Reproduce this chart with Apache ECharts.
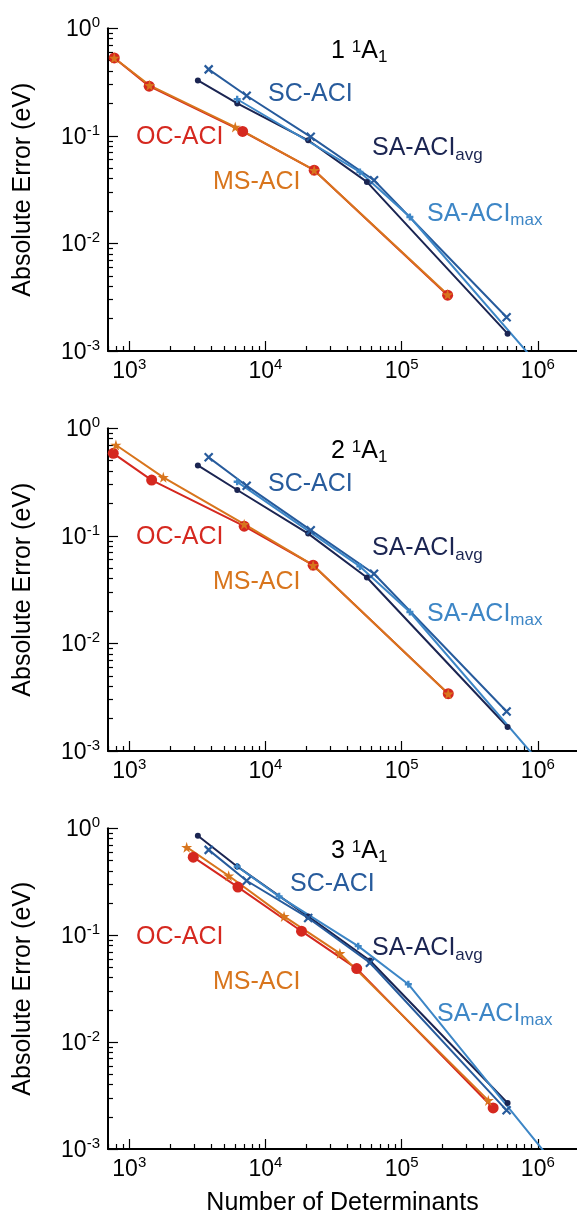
<!DOCTYPE html>
<html><head><meta charset="utf-8">
<script src="https://cdn.jsdelivr.net/npm/echarts@6/dist/echarts.min.js"></script>
<style>html,body{margin:0;padding:0;background:#fff}#c{width:577px;height:1217px}</style>
</head><body><div id="c"></div>
<script>
// ---- data (Number of Determinants, Absolute Error eV) ----
const panelTitles = ['1', '2', '3'];
const xMajorTicks = [1e3, 1e4, 1e5, 1e6];
const yMajorTicks = [1.0000001e-3, 1e-2, 1e-1, 1];

const p1_OC = [[776,0.53],[1400,0.29],[6800,0.11],[22800,0.048],[217700,0.0033]];
const p1_MS = [[776,0.53],[1410,0.295],[6000,0.121],[22800,0.048],[217700,0.00335]];
const p1_SC = [[3830,0.415],[7280,0.236],[21500,0.098],[62700,0.0387],[590000,0.00206]];
const p1_SAavg = [[3190,0.328],[6210,0.200],[20600,0.091],[55600,0.0373],[600000,0.00145]];
const p1_SAmax = [[6200,0.219],[49400,0.0462],[115000,0.0176],[1000000,0.00075]];

const p2_OC = [[763,0.585],[1460,0.330],[6980,0.123],[22400,0.0534],[220000,0.00341]];
const p2_MS = [[798,0.700],[1778,0.350],[6980,0.1285],[22400,0.0534],[220000,0.0034]];
const p2_SC = [[3830,0.537],[7280,0.292],[21500,0.113],[62700,0.0444],[590000,0.00233]];
const p2_SAavg = [[3190,0.452],[6210,0.267],[20600,0.105],[55600,0.041],[600000,0.00167]];
const p2_SAmax = [[6200,0.318],[49400,0.052],[115000,0.0196],[1000000,0.00082]];

const p3_OC = [[2950,0.537],[6280,0.282],[18400,0.109],[46800,0.0487],[470000,0.00242]];
const p3_MS = [[2640,0.666],[5370,0.360],[13700,0.150],[35200,0.0676],[433000,0.00285]];
const p3_SC = [[3830,0.628],[7280,0.323],[20600,0.145],[58500,0.0553],[590000,0.0023]];
const p3_SAavg = [[3190,0.853],[6200,0.44],[20600,0.15],[58500,0.058],[600000,0.00269]];
const p3_SAmax = [[6200,0.439],[12600,0.231],[48000,0.079],[112000,0.0348],[1200000,0.00084]];

const panels = [
  {OC:p1_OC, MS:p1_MS, SC:p1_SC, SAavg:p1_SAavg, SAmax:p1_SAmax},
  {OC:p2_OC, MS:p2_MS, SC:p2_SC, SAavg:p2_SAavg, SAmax:p2_SAmax},
  {OC:p3_OC, MS:p3_MS, SC:p3_SC, SAavg:p3_SAavg, SAmax:p3_SAmax}
];

// ---- style ----
const FONT = '"Liberation Sans", Arial, Helvetica, sans-serif';
const C = {OC:'#d5281f', MS:'#d8751d', SC:'#275b9c', SAavg:'#1b2552', SAmax:'#3d86c6'};
const X_MIN = 698, X_MAX = 1.94e6, Y_MIN = 1e-3, Y_MAX = 1;
const PANEL_DY = 400, GRID_TOP = 28.3, GRID_H = 322.7, GRID_LEFT = 108;

function minorTicks(lo, hi) {
  const out = [];
  for (let e = lo; e <= hi; e++) for (let k = 2; k <= 9; k++) out.push(k * Math.pow(10, e));
  return out;
}
const xMinor = minorTicks(2, 6).filter(v => v > X_MIN && v < X_MAX);
const yMinor = minorTicks(-3, -1);

const supRich = {
  b: {fontSize: 23, fontFamily: FONT, color: '#000', lineHeight: 26, verticalAlign: 'bottom'},
  s: {fontSize: 15, fontFamily: FONT, color: '#000', lineHeight: 26, verticalAlign: 'top', padding: [0,0,0,0]}
};
function powLabel(v) {
  const e = Math.round(Math.log10(v));
  return '{b|10}{s|' + e + '}';
}

const grid = [], xAxis = [], yAxis = [], series = [];
panels.forEach((p, i) => {
  grid.push({left: GRID_LEFT, width: 469, top: GRID_TOP + i * PANEL_DY, height: GRID_H, containLabel: false});
  // major x axis
  xAxis.push({
    type: 'log', gridIndex: i, min: X_MIN, max: X_MAX, logBase: 10, position: 'bottom', offset: 0,
    axisLine: {show: true, lineStyle: {color: '#000', width: 2}},
    axisTick: {show: true, inside: true, length: 10, lineStyle: {color: '#000', width: 1.2}, customValues: xMajorTicks},
    axisLabel: {show: true, margin: 6, customValues: xMajorTicks, formatter: powLabel, rich: supRich},
    splitLine: {show: false},
    name: i === 2 ? 'Number of Determinants' : '', nameLocation: 'middle', nameGap: 42,
    nameTextStyle: {fontSize: 25, fontFamily: FONT, color: '#000'}
  });
  // minor x axis
  xAxis.push({
    type: 'log', gridIndex: i, min: X_MIN, max: X_MAX, logBase: 10, position: 'bottom', offset: 0,
    axisLine: {show: false},
    axisTick: {show: true, inside: true, length: 5, lineStyle: {color: '#000', width: 1.2}, customValues: xMinor},
    axisLabel: {show: false}, splitLine: {show: false}
  });
  yAxis.push({
    type: 'log', gridIndex: i, min: Y_MIN, max: Y_MAX, logBase: 10, position: 'left', offset: 0,
    axisLine: {show: true, lineStyle: {color: '#000', width: 2}},
    axisTick: {show: true, inside: true, length: 10, lineStyle: {color: '#000', width: 1.2}, customValues: yMajorTicks},
    axisLabel: {show: true, margin: 8, customValues: yMajorTicks, formatter: powLabel, rich: supRich},
    splitLine: {show: false},
    name: 'Absolute Error (eV)', nameLocation: 'middle', nameGap: 72, nameRotate: 90,
    nameTextStyle: {fontSize: 25, fontFamily: FONT, color: '#000'}
  });
  yAxis.push({
    type: 'log', gridIndex: i, min: Y_MIN, max: Y_MAX, logBase: 10, position: 'left', offset: 0,
    axisLine: {show: false},
    axisTick: {show: true, inside: true, length: 5, lineStyle: {color: '#000', width: 1.2}, customValues: yMinor},
    axisLabel: {show: false}, splitLine: {show: false}
  });
  const xi = 2 * i, yi = 2 * i;
  const mk = (name, data, color, symbol, size, extra) => Object.assign({
    name: name + i, type: 'line', xAxisIndex: xi, yAxisIndex: yi, data: data,
    symbol: symbol, symbolSize: size, showSymbol: true, clip: true, animation: false,
    lineStyle: {color: color, width: 2}, itemStyle: {color: color},
    emphasis: {disabled: true}
  }, extra || {});
  series.push(mk('SAavg', p.SAavg, C.SAavg, 'circle', 6));
  series.push(mk('SC', p.SC, C.SC, 'path://M0,0L10,10M10,0L0,10', 8,
    {itemStyle: {color: C.SC, borderColor: C.SC, borderWidth: 2.2}}));
  series.push(mk('SAmax', p.SAmax, C.SAmax, 'path://M5,0L5,10M0,5L10,5', 7,
    {itemStyle: {color: C.SAmax, borderColor: C.SAmax, borderWidth: 2.4}}));
  series.push(mk('OC', p.OC, C.OC, 'circle', 11));
  series.push(mk('MS', p.MS, C.MS, 'path://M50,0L61,35L98,35L68,57L79,91L50,70L21,91L32,57L2,35L39,35Z', 11));
});

// annotation text (pixel placement)
const graphic = [];
function txt(x, y, rich, text) {
  graphic.push({type: 'text', x: x, y: y, z: 100,
    style: {text: text, rich: rich, verticalAlign: 'middle', align: 'left'}});
}
function plain(color) {
  return {m: {fontSize: 25, fontFamily: FONT, fill: color, lineHeight: 30, verticalAlign: 'middle'},
          s: {fontSize: 17, fontFamily: FONT, fill: color, lineHeight: 30, verticalAlign: 'bottom', padding: [0,0,0,0]}};
}
const titleRich = {
  m: {fontSize: 25, fontFamily: FONT, fill: '#000', lineHeight: 30, verticalAlign: 'middle'},
  sup: {fontSize: 17, fontFamily: FONT, fill: '#000', lineHeight: 30, verticalAlign: 'top', padding: [3,0,0,0]},
  sub: {fontSize: 17, fontFamily: FONT, fill: '#000', lineHeight: 30, verticalAlign: 'bottom', padding: [0,0,0,0]}
};
const scY = [94.5, 84, 84], scX = [268, 268, 290], maxX = [427, 427, 437];
for (let i = 0; i < 3; i++) {
  const dy = i * PANEL_DY;
  txt(331, 51 + dy, titleRich, '{m|' + panelTitles[i] + ' }{sup|1}{m|A}{sub|1}');
  txt(scX[i], scY[i] + dy, plain(C.SC), '{m|SC-ACI}');
  txt(372, 148.5 + dy, plain(C.SAavg), '{m|SA-ACI}{s|avg}');
  txt(maxX[i], 214 + dy, plain(C.SAmax), '{m|SA-ACI}{s|max}');
  txt(136, 137.5 + dy, plain(C.OC), '{m|OC-ACI}');
  txt(213, 182.5 + dy, plain(C.MS), '{m|MS-ACI}');
}

const chart = echarts.init(document.getElementById('c'), null, {renderer: 'canvas'});
chart.setOption({animation: false, backgroundColor: '#fff', grid, xAxis, yAxis, series, graphic});
</script></body></html>
